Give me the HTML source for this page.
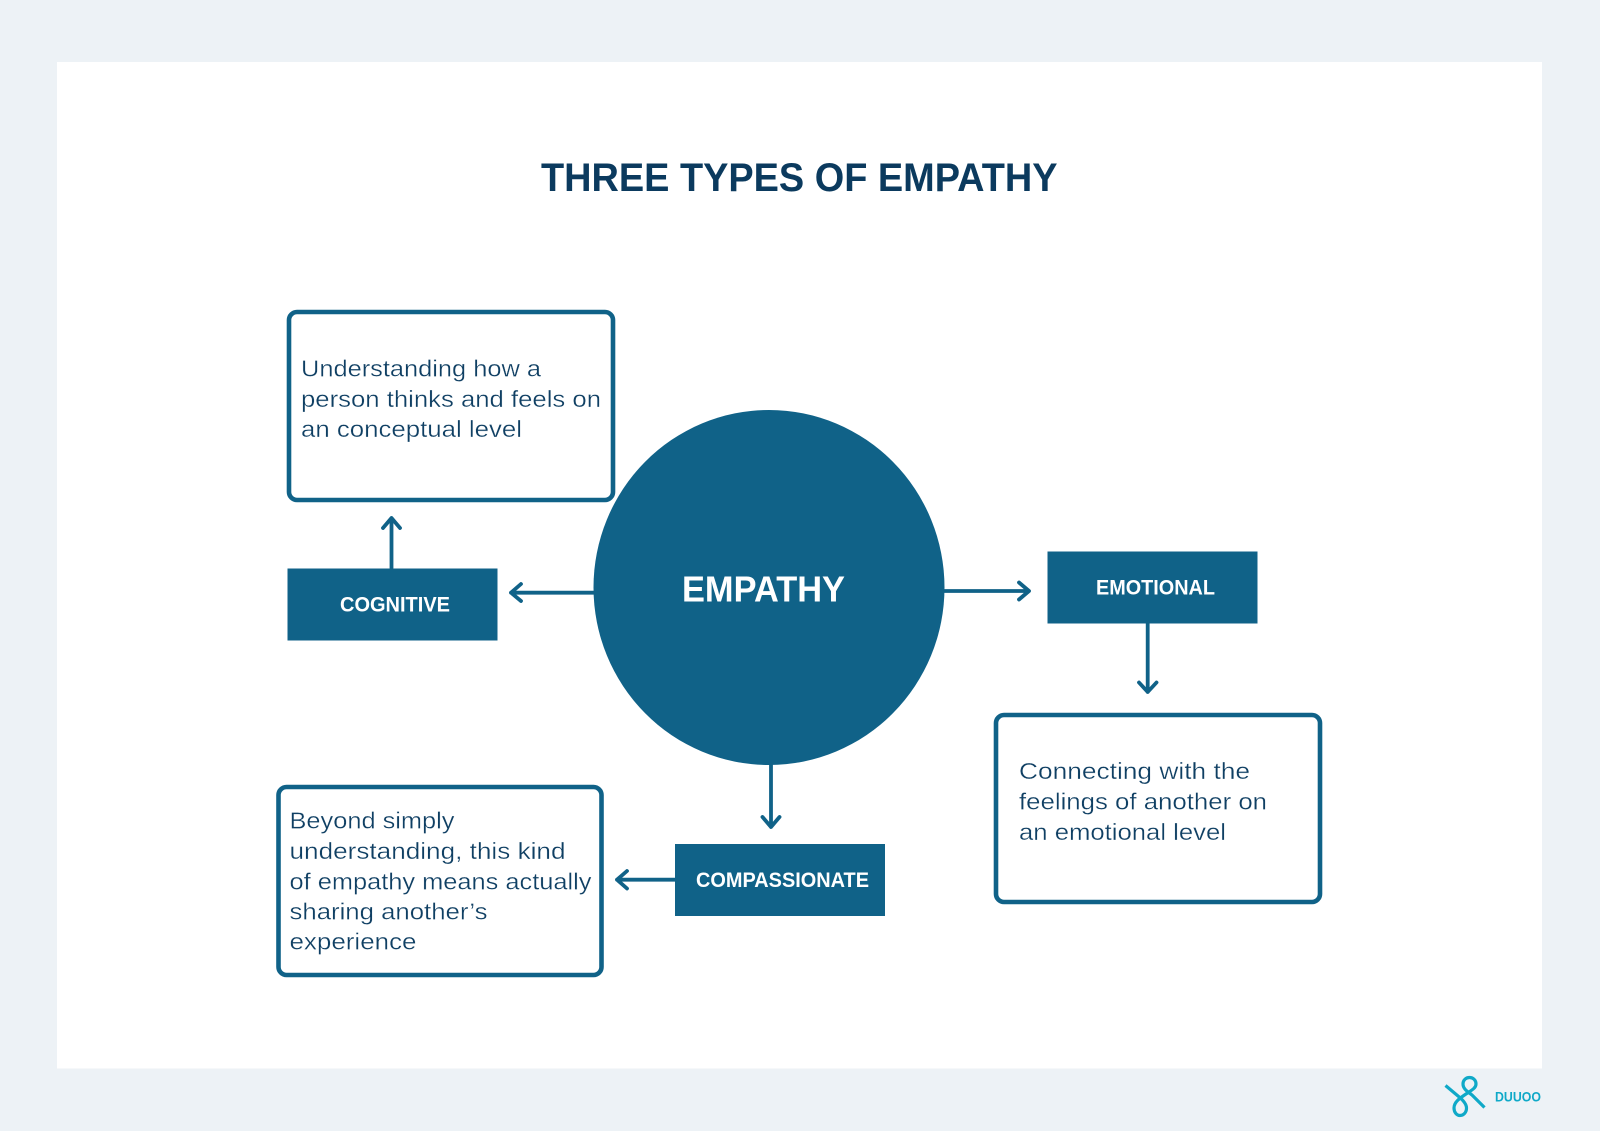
<!DOCTYPE html>
<html><head><meta charset="utf-8"><style>
html,body{margin:0;padding:0;background:#edf2f6}
svg{display:block}
text{font-family:"Liberation Sans",sans-serif}
.t{font-size:23.5px;fill:#0f3f63;stroke:#fff;stroke-width:.3px}
.b{font-weight:bold;fill:#fff;font-size:21px}
.l{fill:none;stroke:#106288;stroke-width:3.8;stroke-linecap:round;stroke-linejoin:round}
.box{fill:#fff;stroke:#106288;stroke-width:4.6}
</style></head><body>
<svg width="1600" height="1131" viewBox="0 0 1600 1131" xmlns="http://www.w3.org/2000/svg">
<rect width="1600" height="1131" fill="#edf2f6"/>
<rect x="57" y="62" width="1485" height="1006.500" fill="#fff"/>
<text x="541" y="191" font-size="39.500" font-weight="bold" fill="#0b3a5e" textLength="516.500" lengthAdjust="spacingAndGlyphs">THREE TYPES OF EMPATHY</text>

<rect class="box" x="289" y="312" width="324" height="188" rx="8"/>
<rect class="box" x="996" y="715" width="324" height="187" rx="8"/>
<rect class="box" x="278.500" y="787" width="323" height="188" rx="8"/>

<ellipse cx="769" cy="587.500" rx="175.500" ry="177.500" fill="#106288"/>
<rect x="287.500" y="568.500" width="210" height="72" fill="#106288"/>
<rect x="1047.500" y="551.500" width="210" height="72" fill="#106288"/>
<rect x="675" y="844" width="210" height="72" fill="#106288"/>

<path class="l" d="M391.500 568V518M383 528L391.500 518L400 528"/>
<path class="l" d="M594 592.700H511M521 584L511 592.700L521 601"/>
<path class="l" d="M944 591H1029M1019 582.500L1029 591L1019 599.500"/>
<path class="l" d="M1147.700 623V692M1139 682.500L1147.700 692L1156.500 682.500"/>
<path class="l" d="M771 765V827M762.500 817L771 827L779.500 817"/>
<path class="l" d="M675 879.700H617M627 871L617 879.700L627 888.500"/>

<text x="682" y="601.700" font-size="36" font-weight="bold" fill="#fff" textLength="163" lengthAdjust="spacingAndGlyphs">EMPATHY</text>
<text class="b" x="340" y="611.700" textLength="110" lengthAdjust="spacingAndGlyphs">COGNITIVE</text>
<text class="b" x="1096" y="594.700" textLength="119" lengthAdjust="spacingAndGlyphs">EMOTIONAL</text>
<text class="b" x="696" y="887" textLength="173" lengthAdjust="spacingAndGlyphs">COMPASSIONATE</text>

<text class="t" x="301" y="376.500" textLength="240" lengthAdjust="spacingAndGlyphs">Understanding how a</text>
<text class="t" x="301" y="407" textLength="300" lengthAdjust="spacingAndGlyphs">person thinks and feels on</text>
<text class="t" x="301" y="437" textLength="221" lengthAdjust="spacingAndGlyphs">an conceptual level</text>

<text class="t" x="1019" y="779" textLength="231" lengthAdjust="spacingAndGlyphs">Connecting with the</text>
<text class="t" x="1019" y="809.500" textLength="248" lengthAdjust="spacingAndGlyphs">feelings of another on</text>
<text class="t" x="1019" y="840" textLength="207" lengthAdjust="spacingAndGlyphs">an emotional level</text>

<text class="t" x="289.500" y="828.500" textLength="165" lengthAdjust="spacingAndGlyphs">Beyond simply</text>
<text class="t" x="289.500" y="859" textLength="276" lengthAdjust="spacingAndGlyphs">understanding, this kind</text>
<text class="t" x="289.500" y="889.500" textLength="302" lengthAdjust="spacingAndGlyphs">of empathy means actually</text>
<text class="t" x="289.500" y="919.500" textLength="198" lengthAdjust="spacingAndGlyphs">sharing another’s</text>
<text class="t" x="289.500" y="949.500" textLength="127" lengthAdjust="spacingAndGlyphs">experience</text>

<path d="M1445.500 1085.500L1458 1096C1463 1100 1466.500 1104 1466.500 1108C1466.500 1112.500 1463.500 1115.500 1460 1115.500C1456.500 1115.500 1454 1112 1454 1108C1454 1102 1460 1098 1466 1094C1472 1090 1476 1088 1476 1084C1476 1080 1473 1077.500 1469.500 1077.500C1466 1077.500 1463 1080 1463 1084C1463 1089 1468 1092 1472 1095L1484.500 1107.500" fill="none" stroke="#0fa9c8" stroke-width="3.200" stroke-linecap="butt" stroke-linejoin="round"/>
<text x="1495" y="1101.700" font-size="14" font-weight="bold" fill="#0fa9c8" textLength="46" lengthAdjust="spacingAndGlyphs">DUUOO</text>
</svg>
</body></html>
